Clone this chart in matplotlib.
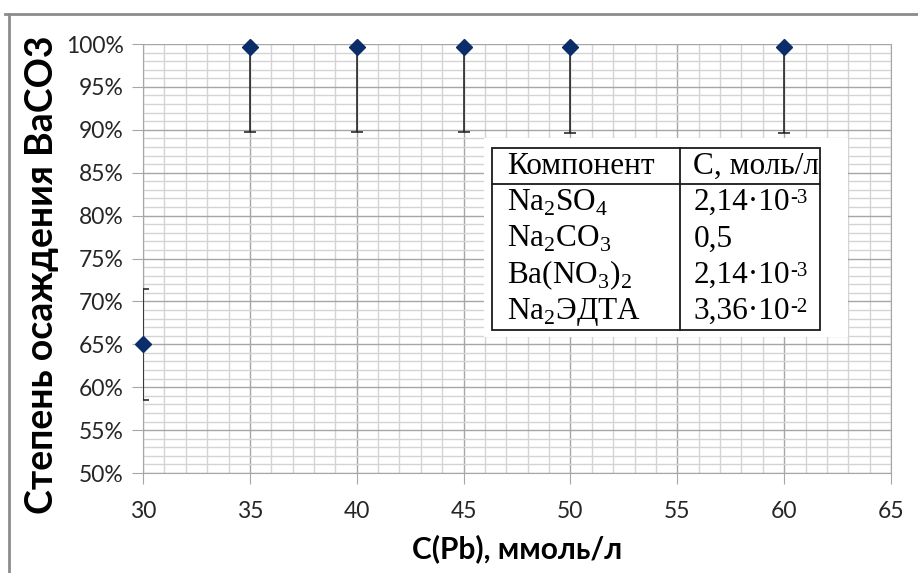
import matplotlib
matplotlib.use("Agg")
import matplotlib.pyplot as plt
from matplotlib.lines import Line2D
from matplotlib.patches import Rectangle
from matplotlib.ticker import MultipleLocator, PercentFormatter

# data
conc_pb = [30, 35, 40, 45, 50, 60]
degree = [65.0, 99.7, 99.7, 99.7, 99.6, 99.6]
err = [6.5, 10.0, 10.0, 10.0, 10.0, 10.0]

table_head = ["Компонент", "С, моль/л"]
table_names = [r"Na$_{\mathregular{2}}$SO$_{\mathregular{4}}$",
               r"Na$_{\mathregular{2}}$CO$_{\mathregular{3}}$",
               r"Ba(NO$_{\mathregular{3}}$)$_{\mathregular{2}}$",
               r"Na$_{\mathregular{2}}$ЭДТА"]
table_conc = ["2,14·10", "0,5", "2,14·10", "3,36·10"]
table_pow = ["-3", "", "-3", "-2"]

plt.rcParams['font.family'] = ['Lato', 'DejaVu Sans']

fig = plt.figure(figsize=(9.18, 5.73), dpi=100)
ax = fig.add_axes([0.1558, 0.1745, 0.8148, 0.7487])

ax.errorbar(conc_pb, degree, yerr=err, fmt='none', ecolor='#1a1a1a',
            elinewidth=1.1, capsize=4.5, capthick=1.1, zorder=3)
ax.plot(conc_pb, degree, linestyle='none', marker='D', markersize=8.5,
        color='#0b2e6b', clip_on=False, zorder=4)

ax.set_xlim(30, 65)
ax.set_ylim(50, 100)
ax.xaxis.set_major_locator(MultipleLocator(5))
ax.xaxis.set_minor_locator(MultipleLocator(1))
ax.yaxis.set_major_locator(MultipleLocator(5))
ax.yaxis.set_minor_locator(MultipleLocator(1))
ax.yaxis.set_major_formatter(PercentFormatter(decimals=0))
ax.grid(which='major', color='#a6a6a6', linewidth=1.0, zorder=0)
ax.grid(which='minor', color='#d4d4d4', linewidth=1.0, zorder=0)
ax.set_axisbelow(True)
for side in ['left', 'bottom', 'right']:
    ax.spines[side].set_color('#a6a6a6')
ax.spines['top'].set_visible(False)
ax.tick_params(which='major', length=8, color='#a6a6a6', labelsize=16.5,
               labelcolor='#262626', pad=6)
ax.tick_params(which='minor', length=0)
ax.tick_params(axis='x', pad=12)

ax.set_xlabel("C(Pb), ммоль/л", fontsize=21.5, fontweight='bold')
ax.set_ylabel("Степень осаждения BaCO3", fontsize=27, fontweight='bold')
ax.xaxis.set_label_coords(0.5, -0.143)
ax.yaxis.set_label_coords(-0.112, 0.463)

# inset table
serif = ['Liberation Serif', 'DejaVu Serif']
x0, x1 = 0.4666, 0.4666 + 0.4385
y0, y1 = 0.3333, 0.7576
xm = 0.7179
row_h = (y1 - y0) / 5
ax.add_patch(Rectangle((0.4559, 0.3170), 0.4866, 0.4639, transform=ax.transAxes,
                       facecolor='white', edgecolor='none', zorder=5))
ax.add_patch(Rectangle((x0, y0), x1 - x0, y1 - y0, transform=ax.transAxes,
                       facecolor='white', edgecolor='#1a1a1a', linewidth=1.3, zorder=6))
ax.add_line(Line2D([xm, xm], [y0, y1], transform=ax.transAxes, color='#1a1a1a',
                   linewidth=1.3, zorder=7))
ax.add_line(Line2D([x0, x1], [y1 - row_h, y1 - row_h], transform=ax.transAxes,
                   color='#1a1a1a', linewidth=1.3, zorder=7))
rows = [table_head + [""]] + [[n, c, p] for n, c, p in zip(table_names, table_conc, table_pow)]
for i, (name, conc, pw) in enumerate(rows):
    yc = y1 - (i + 0.5) * row_h
    ax.text(x0 + 0.02, yc, name, transform=ax.transAxes, family=serif, fontsize=22.5,
            va='center', ha='left', zorder=8)
    t = ax.text(xm + 0.018, yc, conc, transform=ax.transAxes, family=serif, fontsize=22.5,
                va='center', ha='left', zorder=8)
    if pw:
        ax.annotate(pw, xy=(1.0, 0.97), xycoords=t, family=serif, fontsize=15,
                    va='top', ha='left', zorder=8)

# chart area frame (top and left edges visible in the reference)
fig.add_artist(Line2D([0.005, 1.0], [0.976, 0.976], color='#8c8c8c', linewidth=2))
fig.add_artist(Line2D([0.0098, 0.0098], [0.0, 0.976], color='#8c8c8c', linewidth=2))

fig.savefig("out.png", dpi=100)
